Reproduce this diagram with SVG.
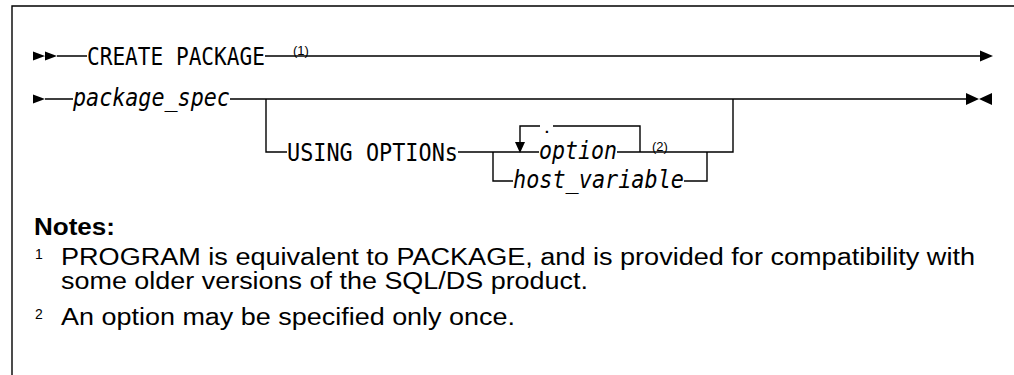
<svg xmlns="http://www.w3.org/2000/svg" width="1014" height="375" viewBox="0 0 1014 375">
<style>
.ln{stroke:#000;stroke-width:1.4;fill:none}
.ah{fill:#000;stroke:none}
.kw{font-family:"DejaVu Sans Mono","Liberation Mono",monospace;font-size:25px;fill:#000}
.var{font-family:"DejaVu Sans Mono","Liberation Mono",monospace;font-size:25px;font-style:italic;fill:#000}
.dot{font-family:"DejaVu Sans Mono","Liberation Mono",monospace;font-size:13px;font-weight:bold;fill:#000}
.sup{font-family:"Liberation Sans",Arial,sans-serif;font-size:13px;fill:#000}
.sn{font-family:"Liberation Sans",Arial,sans-serif;font-size:14px;fill:#000}
.nt{font-family:"Liberation Sans",Arial,sans-serif;font-size:23px;fill:#000}
.nh{font-family:"Liberation Sans",Arial,sans-serif;font-size:23px;font-weight:bold;fill:#000}
</style>
<rect width="1014" height="375" fill="#fff"/>
<g id="frame"><path class="ln" d="M12,375 V6 H1014"/></g>
<g id="connectors">
<path class="ln" d="M57,56 H87 M265,56 H981"/>
<path class="ln" d="M45,99 H73 M230,99 H967"/>
<path class="ln" d="M266,99 V152 H287"/>
<path class="ln" d="M458,152 H539 M617,152 H733 V99"/>
<path class="ln" d="M493,152 V181 H513 M684,181 H707 V152"/>
<path class="ln" d="M520,146 V126 H540 M553,126 H640 V152"/>
<path class="ah" d="M33,51.5 L45,56 L33,60.5 Z M45,51.5 L57,56 L45,60.5 Z"/>
<path class="ah" d="M33,94.5 L45,99 L33,103.5 Z"/>
<path class="ah" d="M980,50.5 L993,56 L980,61.5 Z"/>
<path class="ah" d="M966,93 L979,99 L966,105 Z M992,93 L979,99 L992,105 Z"/>
<path class="ah" d="M515,142 L525,142 L520,153 Z"/>
</g>
<g id="n-create"><text class="kw" transform="translate(87,65) scale(0.845,1)">CREATE PACKAGE</text><text class="sup" x="293" y="55">(1)</text></g>
<g id="n-package_spec"><text class="var" transform="translate(73,106) scale(0.869,1)">package_spec</text></g>
<g id="n-using"><text class="kw" transform="translate(287,161) scale(0.874,1)">USING OPTIONs</text></g>
<g id="n-sep"><text class="dot" x="543" y="132.5">.</text></g>
<g id="n-option"><text class="var" transform="translate(539,159) scale(0.864,1)">option</text><text class="sup" x="652" y="151">(2)</text></g>
<g id="n-host"><text class="var" transform="translate(513,188) scale(0.874,1)">host_variable</text></g>
<g id="notes">
<text class="nh" x="34" y="234.5" textLength="81" lengthAdjust="spacingAndGlyphs">Notes:</text>
<text class="sn" x="35" y="259">1</text>
<text class="nt" x="61" y="264.5" textLength="914" lengthAdjust="spacingAndGlyphs">PROGRAM is equivalent to PACKAGE, and is provided for compatibility with</text>
<text class="nt" x="61" y="288.5" textLength="527" lengthAdjust="spacingAndGlyphs">some older versions of the SQL/DS product.</text>
<text class="sn" x="35" y="319">2</text>
<text class="nt" x="61" y="324.5" textLength="454" lengthAdjust="spacingAndGlyphs">An option may be specified only once.</text>
</g>
</svg>
